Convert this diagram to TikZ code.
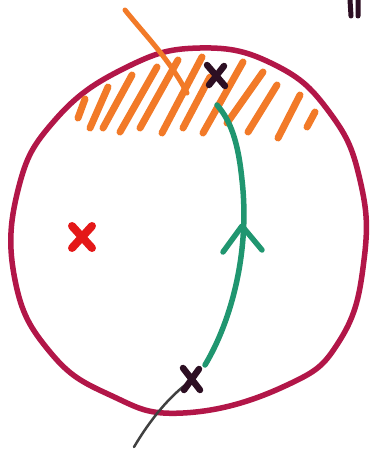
\documentclass[tikz,border=0pt]{standalone}
\begin{document}
\begin{tikzpicture}[x=1pt,y=-1pt,line cap=round,line join=round]
\definecolor{rim}{RGB}{178,22,72}
\definecolor{hatch}{RGB}{242,122,40}
\definecolor{path}{RGB}{32,150,112}
\definecolor{ink}{RGB}{45,15,35}
\definecolor{redx}{RGB}{228,24,24}
\tikzset{
  rimline/.style={draw=rim,line width=5.5pt},
  hatchline/.style={draw=hatch,line width=7pt},
  pathline/.style={draw=path,line width=5.5pt},
  inkx/.style={draw=ink,line width=6.5pt},
  redmark/.style={draw=redx,line width=8pt},
  wire/.style={draw=black!75,line width=2.5pt}
}
\useasboundingbox (0,0) rectangle (370,452);
\fill[white] (0,0) rectangle (370,452);
% boundary
\draw[rimline] plot[smooth cycle,tension=0.75] coordinates {
 (200,48) (275,65) (330,113) (360,180) (364,260) (340,340) (285,386)
 (183,413) (110,395) (50,352) (15,280) (18,190) (55,120) (125,68)};
% hatching
\foreach \a/\b/\c/\d in {78/118/85/99, 90/128/108/87, 103/128/132/75, 120/132/157/67,
  140/128/178/60, 162/133/202/57, 183/128/210/77, 203/133/243/62, 227/123/263/72,
  248/132/277/85, 278/138/300/95, 307/127/315/112}
  \draw[hatchline] (\a,\b) -- (\c,\d);
% orange crossing line
\draw[hatch,line width=5pt] (125,10) .. controls (145,35) and (170,60) .. (187,93);
% green path with arrow mark
\coordinate (gtop) at (217,105);
\coordinate (gbot) at (205,365);
\draw[pathline] (gbot) .. controls (232,320) and (250,250) .. (242,180)
  .. controls (238,140) and (230,120) .. (gtop);
\draw[pathline] (223,252) -- (242,226) -- (262,250);
% wire
\draw[wire] (192,380) .. controls (170,395) and (150,420) .. (134,447);
% black crosses
\draw[inkx] (207,65) -- (225,86) (224,66) -- (209,85);
\draw[inkx] (183,368) -- (200,390) (199,369) -- (184,390);
% red cross
\draw[redmark] (72,226) -- (92,248) (92,226) -- (72,248);
% top-right marks
\draw[ink,line width=5pt] (350,0) -- (351,16) (358,0) -- (358,16);
\end{tikzpicture}
\end{document}
